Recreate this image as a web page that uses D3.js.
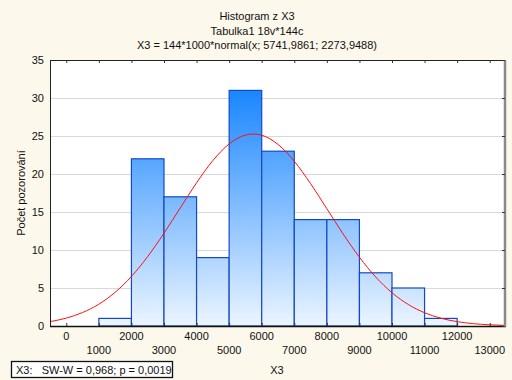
<!DOCTYPE html>
<html><head><meta charset="utf-8">
<script src="https://cdn.jsdelivr.net/npm/d3@7"></script>
<style>body{margin:0;background:#fdf8ec;} svg{display:block;font-family:"Liberation Sans",Arial,sans-serif;}</style>
</head><body><svg id="c" width="512" height="380"></svg>
<script>
const titles = ["Histogram z X3", "Tabulka1 18v*144c", "X3 = 144*1000*normal(x; 5741,9861; 2273,9488)"];
const binStarts = [0,1000,2000,3000,4000,5000,6000,7000,8000,9000,10000,11000,12000];
const binWidth = 1000;
const counts = [0,1,22,17,9,31,23,14,14,7,5,1,0];
const xTicks = [0,1000,2000,3000,4000,5000,6000,7000,8000,9000,10000,11000,12000,13000];
const yTicks = [0,5,10,15,20,25,30,35];
const curveX = [-500,0,500,1000,1500,2000,2500,3000,3500,4000,4500,5000,5500,5742,6000,6500,7000,7500,8000,8500,9000,9500,10000,10500,11000,11500,12000,12500,13000,13500];
const curveY = [0.57,1.042,1.773,2.873,4.434,6.523,9.144,12.211,15.539,18.840,21.763,23.954,25.121,25.263,25.101,23.898,21.678,18.737,15.430,12.107,9.052,6.449,4.376,2.831,1.744,1.024,0.573,0.305,0.155,0.075];
const xLabel = "X3", yLabel = "Počet pozorování";
const statText = "X3:   SW-W = 0,968; p = 0,0019";

const svg = d3.select("#c");
const L=50, R=506, T=60, B=326;
const x = d3.scaleLinear().domain([-500,13500]).range([L,R]);
const y = d3.scaleLinear().domain([0,35]).range([B,T]);

svg.append("rect").attr("x",L).attr("y",T).attr("width",R-L).attr("height",B-T).attr("fill","#fff");

const defs = svg.append("defs");
const g = defs.append("linearGradient").attr("id","bg").attr("gradientUnits","userSpaceOnUse")
  .attr("x1",0).attr("x2",0).attr("y1",y(31)).attr("y2",y(0));
g.append("stop").attr("offset",0).attr("stop-color","#1a86ff");
g.append("stop").attr("offset",1).attr("stop-color","#ecf5ff");

// grid
svg.append("g").selectAll("line").data(yTicks.filter(d=>d>0&&d<35)).join("line")
  .attr("x1",L).attr("x2",R).attr("y1",d=>y(d)+0.5).attr("y2",d=>y(d)+0.5)
  .attr("stroke","#d9d9d9").attr("stroke-width",1);

// bars
svg.append("g").selectAll("rect").data(binStarts.map((s,i)=>({s,c:counts[i]}))).join("rect")
  .attr("x",d=>x(d.s)).attr("width",d=>x(d.s+binWidth)-x(d.s))
  .attr("y",d=>y(d.c)).attr("height",d=>y(0)-y(d.c))
  .attr("fill","url(#bg)").attr("stroke","#1449c6").attr("stroke-width",1.2);

// curve
svg.append("path").datum(curveX.map((v,i)=>[v,curveY[i]]))
  .attr("d",d3.line().x(d=>x(d[0])).y(d=>y(d[1])).curve(d3.curveMonotoneX))
  .attr("fill","none").attr("stroke","#ff1010").attr("stroke-width",1);

// frame
svg.append("line").attr("x1",L).attr("x2",R).attr("y1",T+0.5).attr("y2",T+0.5).attr("stroke","#222");
svg.append("line").attr("x1",L+0.5).attr("x2",L+0.5).attr("y1",T).attr("y2",B).attr("stroke","#222");
svg.append("line").attr("x1",L).attr("x2",R).attr("y1",B+0.5).attr("y2",B+0.5).attr("stroke","#111").attr("stroke-width",1.5);
svg.append("line").attr("x1",R-1).attr("x2",R-1).attr("y1",T).attr("y2",B+1).attr("stroke","#8a8a8a").attr("stroke-width",2.5);

// ticks inward
svg.append("g").selectAll("line").data(xTicks).join("line")
  .attr("x1",d=>x(d)+0.5).attr("x2",d=>x(d)+0.5).attr("y1",T).attr("y2",T+3).attr("stroke","#333");
svg.append("g").selectAll("line").data(xTicks).join("line")
  .attr("x1",d=>x(d)+0.5).attr("x2",d=>x(d)+0.5).attr("y1",B).attr("y2",B-3).attr("stroke","#333");
svg.append("g").selectAll("line").data(yTicks).join("line")
  .attr("x1",R-4).attr("x2",R-1).attr("y1",d=>y(d)+0.5).attr("y2",d=>y(d)+0.5).attr("stroke","#333");

// axis labels
svg.append("g").selectAll("text").data(yTicks).join("text")
  .attr("x",L-6).attr("y",d=>y(d)+4).attr("text-anchor","end").attr("font-size",11).attr("fill","#111").text(d=>d);
svg.append("g").selectAll("text").data(xTicks).join("text")
  .attr("x",d=>x(d)).attr("y",(d,i)=>i%2===0?340:354).attr("text-anchor","middle").attr("font-size",11).attr("fill","#111").text(d=>d);

// titles
svg.append("g").selectAll("text").data(titles).join("text")
  .attr("x",257).attr("y",(d,i)=>20+i*14.5).attr("text-anchor","middle").attr("font-size",11).attr("fill","#111").text(d=>d);

svg.append("text").attr("x",277).attr("y",374).attr("text-anchor","middle").attr("font-size",11).attr("fill","#111").text(xLabel);
svg.append("text").attr("transform","translate(25,193) rotate(-90)").attr("text-anchor","middle").attr("font-size",11).attr("fill","#111").text(yLabel);

svg.append("rect").attr("x",11.5).attr("y",361.5).attr("width",161).attr("height",16).attr("fill","#fff").attr("stroke","#111").attr("stroke-width",1.3);
svg.append("text").attr("x",16).attr("y",374).attr("font-size",11).attr("fill","#111").attr("xml:space","preserve").style("white-space","pre").text(statText);
</script></body></html>
